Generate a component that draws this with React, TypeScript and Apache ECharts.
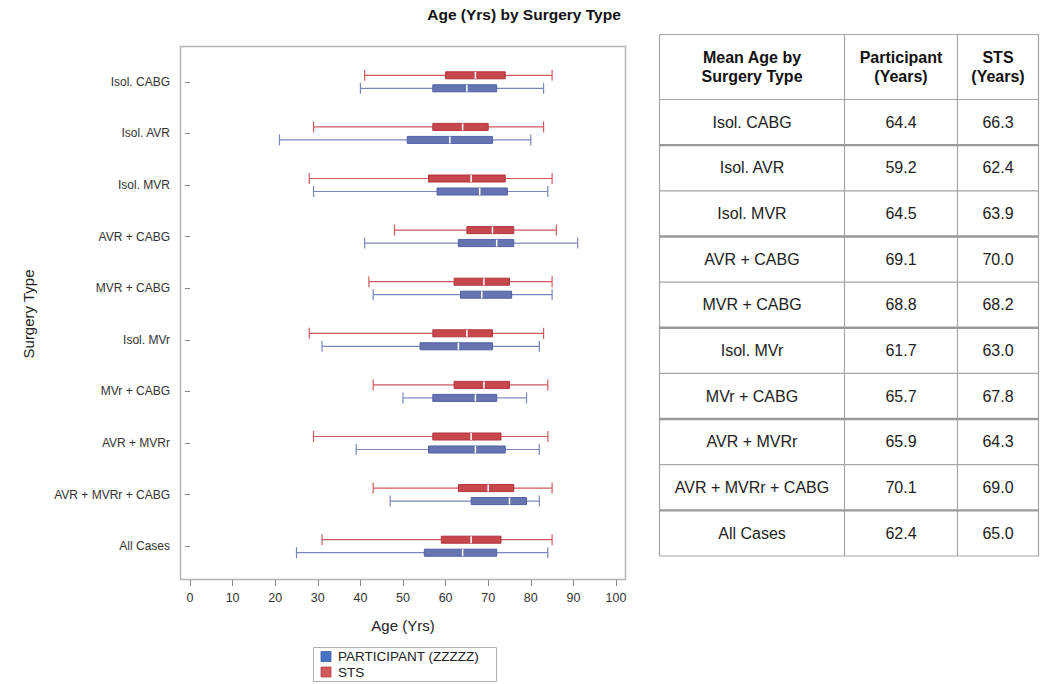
import React, { useEffect, useRef } from "react";
import * as echarts from "echarts";

const categories = [
  "Isol. CABG",
  "Isol. AVR",
  "Isol. MVR",
  "AVR + CABG",
  "MVR + CABG",
  "Isol. MVr",
  "MVr + CABG",
  "AVR + MVRr",
  "AVR + MVRr + CABG",
  "All Cases",
];

// [min, q1, median, q3, max]
const participantBox = [
  [40, 57, 65, 72, 83],
  [21, 51, 61, 71, 80],
  [29, 58, 68, 74.5, 84],
  [41, 63, 72, 76, 91],
  [43, 63.5, 68.5, 75.5, 85],
  [31, 54, 63, 71, 82],
  [50, 57, 67, 72, 79],
  [39, 56, 67, 74, 82],
  [47, 66, 75, 79, 82],
  [25, 55, 64, 72, 84],
];

const stsBox = [
  [41, 60, 67, 74, 85],
  [29, 57, 64, 70, 83],
  [28, 56, 66, 74, 85],
  [48, 65, 71, 76, 86],
  [42, 62, 69, 75, 85],
  [28, 57, 65, 71, 83],
  [43, 62, 69, 75, 84],
  [29, 57, 66, 73, 84],
  [43, 63, 70, 76, 85],
  [31, 59, 66, 73, 85],
];

const xTickValues = [0, 10, 20, 30, 40, 50, 60, 70, 80, 90, 100];

const seriesNames = ["PARTICIPANT (ZZZZZ)", "STS"];
const legendColors = ["#4a72c4", "#d2585c"];

const tableHeader = [
  ["Mean Age by", "Surgery Type"],
  ["Participant", "(Years)"],
  ["STS", "(Years)"],
];
const participantMean = [64.4, 59.2, 64.5, 69.1, 68.8, 61.7, 65.7, 65.9, 70.1, 62.4];
const stsMean = [66.3, 62.4, 63.9, 70.0, 68.2, 63.0, 67.8, 64.3, 69.0, 65.0];

const FONT = "'Liberation Sans', Arial, sans-serif";

function makeRender(offset: number, fill: string, stroke: string, whisker: string) {
  return (params: any, api: any) => {
    const cat = api.value(0);
    const yc = api.coord([0, cat])[1] + offset;
    const xmin = api.coord([api.value(1), cat])[0];
    const xq1 = api.coord([api.value(2), cat])[0];
    const xmed = api.coord([api.value(3), cat])[0];
    const xq3 = api.coord([api.value(4), cat])[0];
    const xmax = api.coord([api.value(5), cat])[0];
    const cap = 5.5;
    const bh = 3.5;
    const wStyle = { stroke: whisker, lineWidth: 1.2 };
    return {
      type: "group",
      children: [
        { type: "line", shape: { x1: xmin, y1: yc, x2: xq1, y2: yc }, style: wStyle },
        { type: "line", shape: { x1: xq3, y1: yc, x2: xmax, y2: yc }, style: wStyle },
        { type: "line", shape: { x1: xmin, y1: yc - cap, x2: xmin, y2: yc + cap }, style: wStyle },
        { type: "line", shape: { x1: xmax, y1: yc - cap, x2: xmax, y2: yc + cap }, style: wStyle },
        {
          type: "rect",
          shape: { x: xq1, y: yc - bh, width: xq3 - xq1, height: bh * 2 },
          style: { fill, stroke, lineWidth: 1 },
        },
        {
          type: "line",
          shape: { x1: xmed, y1: yc - bh, x2: xmed, y2: yc + bh },
          style: { stroke: "#ffffff", lineWidth: 1.5 },
        },
      ],
    };
  };
}

function buildTable(): any[] {
  const colX = [659.5, 844.5, 957.5, 1038.5];
  const top = 34.5;
  const headerBottom = 99.5;
  const rowH = 45.65;
  const els: any[] = [];
  const nRows = categories.length;
  const bottom = headerBottom + rowH * nRows;
  const lineColor = "#a6a6a6";
  els.push({
    type: "rect",
    shape: { x: colX[0], y: top, width: colX[3] - colX[0], height: bottom - top },
    style: { fill: "#ffffff", stroke: lineColor, lineWidth: 1.2 },
  });
  for (let c = 1; c < 3; c++) {
    els.push({
      type: "line",
      shape: { x1: colX[c], y1: top, x2: colX[c], y2: bottom },
      style: { stroke: lineColor, lineWidth: 1.2 },
    });
  }
  els.push({
    type: "line",
    shape: { x1: colX[0], y1: headerBottom, x2: colX[3], y2: headerBottom },
    style: { stroke: lineColor, lineWidth: 1.2 },
  });
  for (let r = 0; r < nRows - 1; r++) {
    const y = headerBottom + rowH * (r + 1);
    const thick = r % 2 === 0;
    els.push({
      type: "line",
      shape: { x1: colX[0], y1: y, x2: colX[3], y2: y },
      style: { stroke: thick ? "#999999" : lineColor, lineWidth: thick ? 2.4 : 1.2 },
    });
  }
  for (let c = 0; c < 3; c++) {
    const cx = (colX[c] + colX[c + 1]) / 2;
    tableHeader[c].forEach((t, i) => {
      els.push({
        type: "text",
        x: cx,
        y: 57 + i * 19,
        style: {
          text: t,
          fontFamily: FONT,
          fontSize: 16,
          fontWeight: "bold",
          fill: "#111111",
          align: "center",
          verticalAlign: "middle",
        },
      });
    });
  }
  for (let r = 0; r < nRows; r++) {
    const cy = headerBottom + rowH * r + rowH / 2;
    const vals = [categories[r], participantMean[r].toFixed(1), stsMean[r].toFixed(1)];
    vals.forEach((t, c) => {
      els.push({
        type: "text",
        x: (colX[c] + colX[c + 1]) / 2,
        y: cy,
        style: {
          text: t,
          fontFamily: FONT,
          fontSize: 16,
          fill: "#222222",
          align: "center",
          verticalAlign: "middle",
        },
      });
    });
  }
  return els;
}

function buildLegend(): any[] {
  const els: any[] = [
    {
      type: "rect",
      shape: { x: 313.5, y: 647.5, width: 183, height: 34 },
      style: { fill: "#ffffff", stroke: "#b0b0b0", lineWidth: 1 },
    },
  ];
  seriesNames.forEach((n, i) => {
    const y = 656.5 + i * 15.5;
    els.push({
      type: "rect",
      shape: { x: 321, y: y - 5, width: 10, height: 10 },
      style: { fill: legendColors[i], stroke: i === 0 ? "#3b5fa8" : "#b8444a", lineWidth: 0.8 },
    });
    els.push({
      type: "text",
      x: 338,
      y,
      style: {
        text: n,
        fontFamily: FONT,
        fontSize: 13.5,
        fill: "#222222",
        align: "left",
        verticalAlign: "middle",
      },
    });
  });
  return els;
}

export default function App() {
  const ref = useRef<HTMLDivElement>(null);

  useEffect(() => {
    if (!ref.current) return;
    const chart = echarts.init(ref.current, undefined, { renderer: "svg" });

    const partData = participantBox.map((b, i) => [i, ...b]);
    const stsData = stsBox.map((b, i) => [i, ...b]);

    const option: any = {
      animation: false,
      backgroundColor: "#ffffff",
      textStyle: { fontFamily: FONT },
      title: {
        text: "Age (Yrs) by Surgery Type",
        left: 519,
        top: 1,
        textAlign: "center",
        textStyle: { fontFamily: FONT, fontSize: 15.5, fontWeight: "bold", color: "#111111" },
      },
      grid: { left: 180, right: 429, top: 56, bottom: 112 },
      xAxis: {
        type: "value",
        min: -2.35,
        max: 102.35,
        offset: 8,
        axisLine: { show: false },
        axisTick: {
          show: true,
          length: 6,
          lineStyle: { color: "#888888" },
          customValues: xTickValues,
        },
        axisLabel: {
          fontFamily: FONT,
          fontSize: 12.5,
          color: "#333333",
          margin: 11,
          customValues: xTickValues,
        },
        splitLine: { show: false },
        name: "Age (Yrs)",
        nameLocation: "middle",
        nameGap: 38,
        nameTextStyle: { fontFamily: FONT, fontSize: 15, color: "#222222" },
      },
      yAxis: {
        type: "category",
        data: categories,
        inverse: true,
        axisLine: { show: false },
        axisTick: { show: true, alignWithLabel: true, length: 5, lineStyle: { color: "#888888" } },
        axisLabel: { fontFamily: FONT, fontSize: 12, color: "#333333", margin: 10 },
        splitLine: { show: false },
        name: "Surgery Type",
        nameLocation: "middle",
        nameRotate: 90,
        nameGap: 144,
        nameTextStyle: { fontFamily: FONT, fontSize: 15, color: "#222222" },
      },
      graphic: [
        {
          type: "rect",
          z: -1,
          shape: { x: 180.5, y: 46.5, width: 445, height: 533 },
          style: { fill: "none", stroke: "#b5b5b5", lineWidth: 1.5 },
        },
        ...buildTable(),
        ...buildLegend(),
      ],
      series: [
        {
          name: seriesNames[0],
          type: "custom",
          renderItem: makeRender(6.5, "#6674b2", "#4f5ea6", "#7a87bf"),
          encode: { x: [1, 2, 3, 4, 5], y: 0 },
          itemStyle: { color: legendColors[0] },
          data: partData,
        },
        {
          name: seriesNames[1],
          type: "custom",
          renderItem: makeRender(-6.5, "#c6474c", "#b3323a", "#d0595e"),
          encode: { x: [1, 2, 3, 4, 5], y: 0 },
          itemStyle: { color: legendColors[1] },
          data: stsData,
        },
      ],
    };

    chart.setOption(option);
    return () => chart.dispose();
  }, []);

  return (
    <div
      ref={ref}
      style={{ position: "fixed", left: 0, top: 0, width: 1055, height: 684, background: "#fff" }}
    />
  );
}
